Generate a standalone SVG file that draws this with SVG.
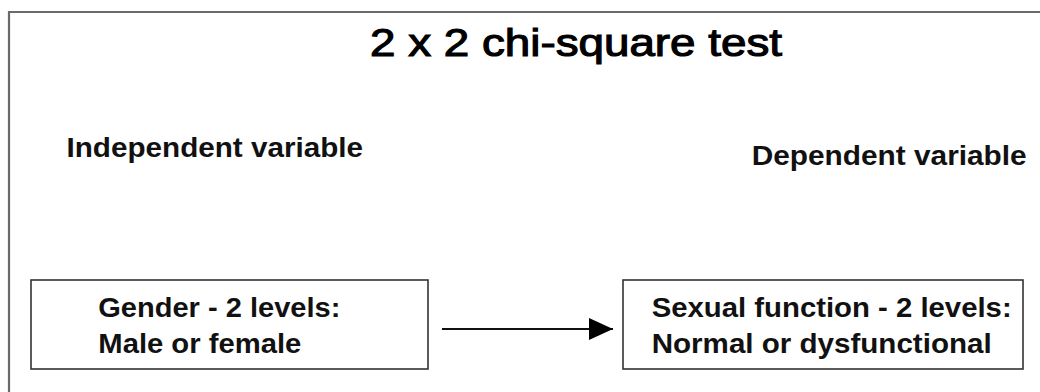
<svg xmlns="http://www.w3.org/2000/svg" width="1040" height="392" viewBox="0 0 1040 392">
  <defs>
    <style>
      .title { font-family: "Liberation Sans", Arial, sans-serif; font-weight: normal; font-size: 38px; fill: #000; stroke: #000; stroke-width: 1.1; }
      .lbl { font-family: "Liberation Sans", Arial, sans-serif; font-weight: bold; font-size: 28px; fill: #111; }
      .box { fill: #fff; stroke: #333; stroke-width: 1.6; }
      .frame { fill: none; stroke: #6a6a6a; stroke-width: 2.2; }
      .conn { stroke: #111; stroke-width: 2; fill: none; }
    </style>
    <marker id="arrowhead" viewBox="0 0 24 22" refX="24" refY="11" markerWidth="24" markerHeight="22" markerUnits="userSpaceOnUse" orient="auto">
      <path d="M0,0 L24,11 L0,22 Z" fill="#000"/>
    </marker>
  </defs>

  <rect width="1040" height="392" fill="#fff"/>

  <!-- open page frame: left and top edges only -->
  <path class="frame" d="M9,392 V12 H1040"/>

  <text class="title" x="370" y="55.5" textLength="412" lengthAdjust="spacingAndGlyphs">2 x 2 chi-square test</text>
  <text class="lbl" x="66.5" y="156.7" textLength="296.5" lengthAdjust="spacingAndGlyphs">Independent variable</text>
  <text class="lbl" x="751.7" y="165" textLength="275" lengthAdjust="spacingAndGlyphs">Dependent variable</text>

  <g id="gender">
    <rect class="box" x="31" y="280" width="397" height="89"/>
    <text class="lbl" x="98.3" y="316.7" textLength="242" lengthAdjust="spacingAndGlyphs">Gender - 2 levels:</text>
    <text class="lbl" x="98.3" y="353.3" textLength="203" lengthAdjust="spacingAndGlyphs">Male or female</text>
  </g>

  <g id="sexual-function">
    <rect class="box" x="623" y="280" width="400" height="89"/>
    <text class="lbl" x="651.7" y="316.5" textLength="360" lengthAdjust="spacingAndGlyphs">Sexual function - 2 levels:</text>
    <text class="lbl" x="651.7" y="353.3" textLength="340" lengthAdjust="spacingAndGlyphs">Normal or dysfunctional</text>
  </g>

  <g id="connectors">
    <line class="conn" x1="442" y1="329" x2="613" y2="329" marker-end="url(#arrowhead)"/>
  </g>
</svg>
